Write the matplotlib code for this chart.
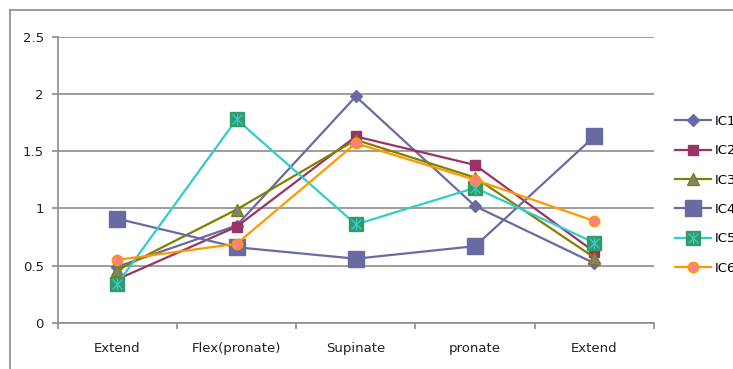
import matplotlib
matplotlib.use("Agg")
import matplotlib.pyplot as plt
from matplotlib.lines import Line2D
from matplotlib.legend_handler import HandlerTuple

# ─── DATA ─────────────────────────────────────────────────────────────────────
categories = ["Extend", "Flex(pronate)", "Supinate", "pronate", "Extend"]
ic1 = [0.49, 0.85, 1.98, 1.02, 0.52]
ic2 = [0.38, 0.84, 1.63, 1.38, 0.62]
ic3 = [0.46, 0.99, 1.60, 1.27, 0.57]
ic4 = [0.91, 0.66, 0.56, 0.67, 1.63]
ic5 = [0.34, 1.78, 0.86, 1.18, 0.70]
ic6 = [0.55, 0.69, 1.57, 1.25, 0.89]
y_ticks = [0, 0.5, 1, 1.5, 2, 2.5]
y_tick_labels = ["0", "0.5", "1", "1.5", "2", "2.5"]
# ──────────────────────────────────────────────────────────────────────────────

GRID = "#8c8c8c"
W, H = 733, 369

fig = plt.figure(figsize=(W / 100, H / 100), dpi=100)
fig.patch.set_facecolor("white")

# chart area frame (only its top and left edges are inside the image)
fig.add_artist(Line2D([10 / W, 1.0], [1 - 10 / H, 1 - 10 / H], color=GRID, lw=1.2))
fig.add_artist(Line2D([10 / W, 10 / W], [0, 1 - 10 / H], color=GRID, lw=1.2))

ax = fig.add_axes([57.7 / W, 1 - 322.7 / H, (654 - 57.7) / W, (322.7 - 37) / H])
x = list(range(len(categories)))

lw = 1.6
l1, = ax.plot(x, ic1, color="#6a6aa3", lw=lw, marker="D", ms=6,
              mfc="#6a6aa3", mec="#6a6aa3", label="IC1")
l2, = ax.plot(x, ic2, color="#993366", lw=lw, marker="s", ms=7.5,
              mfc="#993366", mec="#993366", label="IC2")
l3, = ax.plot(x, ic3, color="#808000", lw=lw, marker="^", ms=8,
              mfc="#808080", mec="#808000", label="IC3")
l4, = ax.plot(x, ic4, color="#6a6aa3", lw=lw, marker="s", ms=11,
              mfc="#6a6aa3", mec="#6a6aa3", label="IC4")
l5, = ax.plot(x, ic5, color="#33cccc", lw=lw, marker="s", ms=10,
              mfc="#339966", mec="#339966", label="IC5")
# star-like cross drawn over the IC5 squares
l5x, = ax.plot(x, ic5, ls="none", marker="x", ms=7, mec="#33cccc", mew=1.0)
l5v, = ax.plot(x, ic5, ls="none", marker="|", ms=9, mec="#33cccc", mew=1.0)
l6, = ax.plot(x, ic6, color="#ff9900", lw=lw, marker="o", ms=7.5,
              mfc="#ff8080", mec="#ff9900", label="IC6")

ax.set_xlim(-0.5, len(categories) - 0.5)
ax.set_ylim(0, 2.5)

ax.set_yticks(y_ticks)
ax.set_yticklabels(y_tick_labels)
ax.yaxis.grid(True, color=GRID, lw=1.2)
ax.set_axisbelow(True)

# category labels centred, tick marks on the boundaries
ax.set_xticks(x)
ax.set_xticklabels(categories)
ax.set_xticks([i - 0.5 for i in range(len(categories) + 1)], minor=True)
ax.tick_params(axis="x", which="major", length=0, pad=14, labelsize=9.5, colors="#222222")
ax.tick_params(axis="x", which="minor", length=4, width=1.2, color=GRID)
ax.tick_params(axis="y", length=4, width=1.2, color=GRID, pad=6, labelsize=9.5,
               labelcolor="#222222")

for side in ("top", "right"):
    ax.spines[side].set_visible(False)
for side in ("left", "bottom"):
    ax.spines[side].set_color(GRID)
    ax.spines[side].set_linewidth(1.2)

handles = [l1, l2, l3, l4, (l5, l5x, l5v), l6]
labels = ["IC1", "IC2", "IC3", "IC4", "IC5", "IC6"]
fig.legend(handles, labels, loc="upper left", bbox_to_anchor=(675 / W, 1 - 115 / H),
           frameon=False, fontsize=9.5, handlelength=2.7, handletextpad=0.3,
           labelspacing=1.24, borderaxespad=0, borderpad=0,
           handler_map={tuple: HandlerTuple(ndivide=1, pad=0)})

fig.savefig("out.png", dpi=100)
